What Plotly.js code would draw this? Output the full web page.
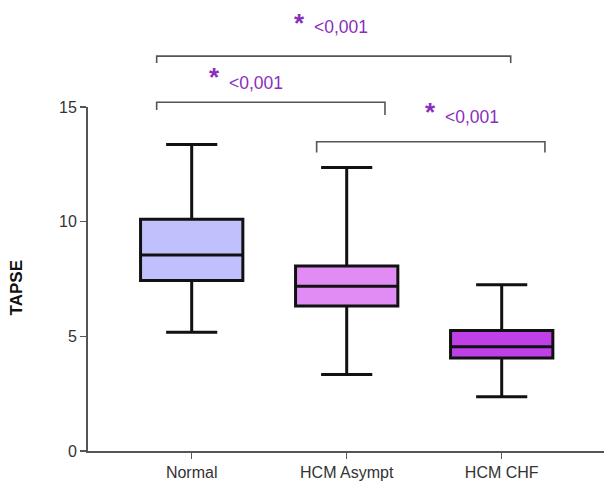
<!DOCTYPE html>
<html>
<head>
<meta charset="utf-8">
<script src="https://cdn.plot.ly/plotly-3.0.1.min.js"></script>
<style>html,body{margin:0;padding:0;background:#fff;}#chart{width:604px;height:481px;}</style>
</head>
<body>
<div id="chart"></div>
<script>
var categories = ["Normal", "HCM Asympt", "HCM CHF"];
var upperWhisker = [13.36, 12.36, 7.25];
var q3Values = [10.1, 8.07, 5.25];
var medians = [8.55, 7.18, 4.55];
var q1Values = [7.43, 6.32, 4.06];
var lowerWhisker = [5.18, 3.34, 2.37];
var fillColors = ["#c0c0fc", "#e08cf4", "#c040e8"];
var yTicks = [0, 5, 10, 15];

var comparisons = [
  {from: 0, to: 2, label: "<0,001"},
  {from: 0, to: 1, label: "<0,001"},
  {from: 1, to: 2, label: "<0,001"}
];

var traces = categories.map(function(c, i) {
  return {
    type: "box",
    x: [c],
    q1: [q1Values[i]],
    median: [medians[i]],
    q3: [q3Values[i]],
    lowerfence: [lowerWhisker[i]],
    upperfence: [upperWhisker[i]],
    boxpoints: false,
    width: 0.66,
    whiskerwidth: 0.5,
    fillcolor: fillColors[i],
    line: {color: "#111111", width: 3},
    hoverinfo: "skip",
    showlegend: false
  };
});

// bracket geometry (x in category units, y in paper)
var brackets = [
  {x0: -0.226, x1: 2.058, y: 1.148, yl: 1.128, yr: 1.128, sx: 0.695, sy: 1.245, tx: 0.775, ty: 1.2326},
  {x0: -0.226, x1: 1.247, y: 1.0137, yl: 0.991, yr: 0.977, sx: 0.150, sy: 1.087, tx: 0.230, ty: 1.069},
  {x0: 0.806, x1: 2.279, y: 0.899, yl: 0.868, yr: 0.868, sx: 1.543, sy: 0.9855, tx: 1.623, ty: 0.971}
];

var shapes = [];
var annotations = [];
comparisons.forEach(function(cmp, i) {
  var b = brackets[i];
  shapes.push({
    type: "path", xref: "x", yref: "paper",
    path: "M " + b.x0 + " " + b.yl + " L " + b.x0 + " " + b.y + " L " + b.x1 + " " + b.y + " L " + b.x1 + " " + b.yr,
    line: {color: "#555555", width: 1.6}
  });
  annotations.push({
    xref: "x", yref: "paper", x: b.sx, y: b.sy, text: "<b>*</b>", showarrow: false,
    xanchor: "center", yanchor: "middle",
    font: {family: "Liberation Sans, Arial, sans-serif", size: 26, color: "#8a2fbd"}
  });
  annotations.push({
    xref: "x", yref: "paper", x: b.tx, y: b.ty, text: cmp.label, showarrow: false,
    xanchor: "left", yanchor: "middle",
    font: {family: "Liberation Sans, Arial, sans-serif", size: 17.5, color: "#8a2fbd"}
  });
});

annotations.push({
  xref: "paper", yref: "paper", x: -0.138, y: 0.475, text: "<b>TAPSE</b>", showarrow: false,
  textangle: -90, xanchor: "center", yanchor: "middle",
  font: {family: "Liberation Sans, Arial, sans-serif", size: 17, color: "#111111"}
});

var layout = {
  width: 604, height: 481,
  margin: {l: 88, r: 0, t: 107, b: 30, pad: 0},
  paper_bgcolor: "#ffffff", plot_bgcolor: "#ffffff",
  showlegend: false,
  font: {family: "Liberation Sans, Arial, sans-serif", size: 15, color: "#333333"},
  xaxis: {
    type: "category",
    range: [-0.669, 2.66],
    showgrid: false, zeroline: false,
    showline: true, linecolor: "#555555", linewidth: 2,
    ticks: "outside", ticklen: 6, tickcolor: "#555555", tickwidth: 1.5,
    tickfont: {size: 16, color: "#333333"},
    fixedrange: true
  },
  yaxis: {
    range: [0, 15],
    tickvals: yTicks,
    ticktext: yTicks.map(String),
    showgrid: false, zeroline: false,
    showline: true, linecolor: "#555555", linewidth: 2,
    ticks: "outside", ticklen: 6, tickcolor: "#555555", tickwidth: 1.5,
    tickfont: {size: 16, color: "#333333"},
    fixedrange: true
  },
  shapes: shapes,
  annotations: annotations
};

Plotly.newPlot("chart", traces, layout, {displayModeBar: false, staticPlot: true});
</script>
</body>
</html>
